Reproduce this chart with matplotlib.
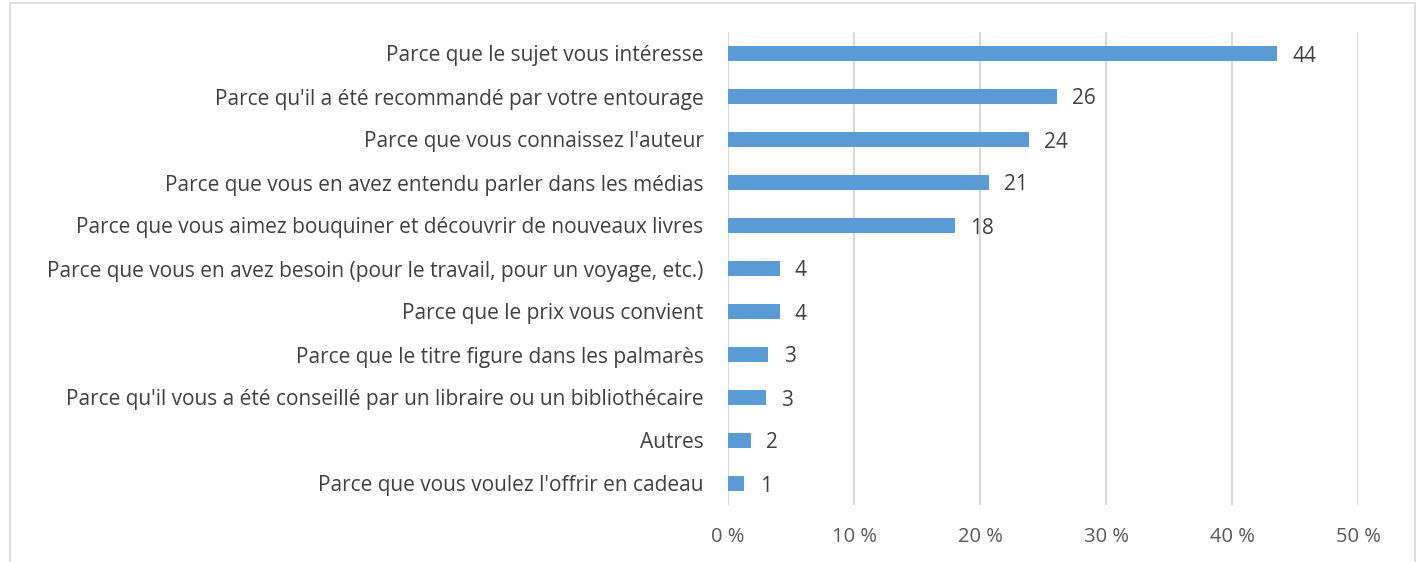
import matplotlib
matplotlib.use("Agg")
import matplotlib.pyplot as plt
from matplotlib.patches import Rectangle
from matplotlib.ticker import FuncFormatter

categories = [
    "Parce que le sujet vous intéresse",
    "Parce qu'il a été recommandé par votre entourage",
    "Parce que vous connaissez l'auteur",
    "Parce que vous en avez entendu parler dans les médias",
    "Parce que vous aimez bouquiner et découvrir de nouveaux livres",
    "Parce que vous en avez besoin (pour le travail, pour un voyage, etc.)",
    "Parce que le prix vous convient",
    "Parce que le titre figure dans les palmarès",
    "Parce qu'il vous a été conseillé par un libraire ou un bibliothécaire",
    "Autres",
    "Parce que vous voulez l'offrir en cadeau",
]
values = [43.6, 26.1, 23.9, 20.7, 18.0, 4.1, 4.1, 3.2, 3.0, 1.8, 1.3]
value_labels = ["44", "26", "24", "21", "18", "4", "4", "3", "3", "2", "1"]
x_ticks = [0, 10, 20, 30, 40, 50]

plt.rcParams['font.family'] = ['Open Sans', 'DejaVu Sans']

W, H = 1420, 562
fig = plt.figure(figsize=(W / 100, H / 100), dpi=100)
ax = fig.add_axes([728 / W, 1 - 505 / H, (1358 - 728) / W, (505 - 32) / H])

ypos = list(range(len(categories)))
ax.barh(ypos, values, height=0.35, color="#5B9BD5", zorder=3)
ax.set_ylim(len(categories) - 0.5, -0.5)
ax.set_xlim(0, 50)
ax.set_yticks(ypos)
ax.set_yticklabels(categories, fontsize=15, color="#404040")
ax.set_xticks(x_ticks)
ax.xaxis.set_major_formatter(FuncFormatter(lambda v, p: f"{int(v)} %"))
ax.tick_params(axis='x', labelsize=14.5, labelcolor="#595959", length=0, pad=16)
ax.tick_params(axis='y', length=0, pad=17.5)
for lab in ax.get_yticklabels():
    lab.set_verticalalignment('center_baseline')
ax.grid(axis='x', color="#D9D9D9", linewidth=1.5, zorder=0)
for s in ax.spines.values():
    s.set_visible(False)

for y, v, lab in zip(ypos, values, value_labels):
    ax.annotate(lab, (v, y), xytext=(11, 0), textcoords='offset points',
                va='center_baseline', ha='left', fontsize=15, color="#404040")

fig.patches.append(Rectangle((10 / W, -0.05), (1415 - 10) / W, 1.05 - 3 / H,
                             transform=fig.transFigure, fill=False,
                             edgecolor="#D9D9D9", linewidth=1.2))

fig.savefig("out.png", dpi=100)
